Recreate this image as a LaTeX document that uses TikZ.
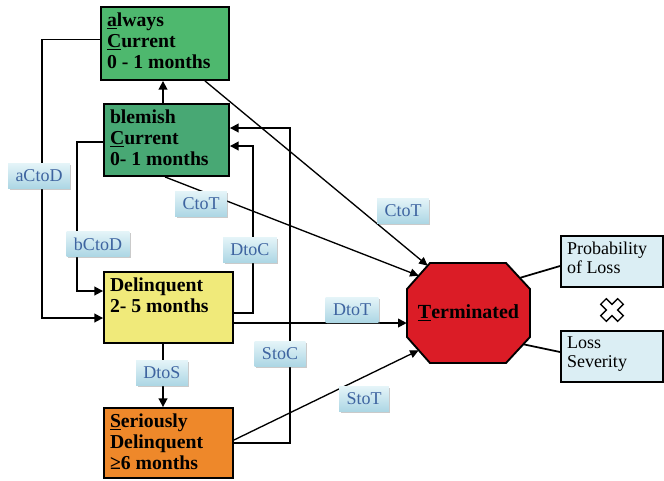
\documentclass[tikz,border=0pt]{standalone}
\usepackage{fontspec}
\setmainfont{Liberation Serif}
\usetikzlibrary{arrows.meta,shadows,calc}
\definecolor{cA}{RGB}{78,184,110}
\definecolor{cB}{RGB}{72,168,116}
\definecolor{cD}{RGB}{240,234,122}
\definecolor{cS}{RGB}{238,136,42}
\definecolor{cT}{RGB}{219,28,38}
\definecolor{cP}{RGB}{219,238,244}
\definecolor{labtxt}{RGB}{62,100,160}
\definecolor{labtop}{RGB}{228,244,248}
\definecolor{labbot}{RGB}{172,214,228}
\newcommand\bt[3]{\parbox[c][#2][t]{#1}{\raggedright #3}}
\begin{document}
\begin{tikzpicture}[x=0.75pt,y=-0.75pt,
  bx/.style={draw=black,line width=1.4pt,inner sep=4.5pt,font=\fontsize{14.8}{15.5}\selectfont\bfseries},
  px/.style={draw=black,line width=1.4pt,inner sep=4.5pt,fill=cP,font=\fontsize{13.5}{14}\selectfont},
  con/.style={line width=1.3pt},
  arr/.style={con,-{Triangle[length=6.5pt,width=6.5pt]}},
  diag/.style={line width=1pt,-{Triangle[length=6.5pt,width=6pt]}},
  lab/.style={font=\fontsize{13.5}{13.5}\selectfont,text=labtxt,top color=labtop,bottom color=labbot,
    minimum height=18.75pt,inner xsep=5.5pt,inner ysep=0pt,
    drop shadow={shadow xshift=1.2pt,shadow yshift=-1.2pt,opacity=.35,fill=black!60}}]
\useasboundingbox (0,0) rectangle (664,480);
% boxes
\node[bx,fill=cA] (a) at (165,43.5) {\bt{87pt}{45.75pt}{\underline{a}lways\\\underline{C}urrent\\0 - 1 months}};
\node[bx,fill=cB] (b) at (166.5,140) {\bt{84.75pt}{45pt}{blemish\\\underline{C}urrent\\0- 1 months}};
\node[bx,fill=cD] (d) at (168.5,307.5) {\bt{87.75pt}{44.25pt}{Delinquent\\2- 5 months}};
\node[bx,fill=cS] (s) at (168.5,443) {\bt{87.75pt}{43.5pt}{\underline{S}eriously\\Delinquent\\≥6 months}};
\node[px] (p) at (612,261.5) {\bt{67.5pt}{29.25pt}{Probability\\of Loss}};
\node[px] (v) at (612,356.5) {\bt{67.5pt}{29.25pt}{Loss\\Severity}};
% octagon
\filldraw[fill=cT,draw=black,line width=1.4pt] (430,263) -- (506,263) -- (530,289) -- (530,337) -- (506,363) -- (430,363) -- (407,337) -- (407,289) -- cycle;
\node[minimum width=92.25pt,minimum height=75pt,inner sep=0pt,font=\fontsize{15}{15}\selectfont\bfseries] (t) at (468.5,313) {\underline{T}erminated};
% cross
\draw[fill=white,line width=1pt,rotate around={45:(612,310)}] (608,298) -- (616,298) -- (616,306) -- (624,306) -- (624,314) -- (616,314) -- (616,322) -- (608,322) -- (608,314) -- (600,314) -- (600,306) -- (608,306) -- cycle;
% connectors
\draw[arr] ($(b.north)+(-3.5,0)$) -- ($(a.south)+(-2,0)$);
\draw[arr] ($(a.west)+(0,-4)$) -- ++(-58,0) |- ($(d.west)+(0,10.5)$);
\draw[arr] ($(b.west)+(0,2)$) -- ++(-26,0) |- ($(d.west)+(0,-16.5)$);
\draw[arr] ($(d.east)+(0,5.5)$) -- ++(19,0) |- ($(b.east)+(0,6)$);
\draw[arr] (s.east) -- ++(56,0) |- ($(b.east)+(0,-12)$);
\draw[arr] ($(d.south)+(-5.5,0)$) -- ($(s.north)+(-5.5,0)$);
\draw[arr] ($(d.east)+(0,15.5)$) -- ($(t.west)+(0,10)$);
\draw[diag] ($(s.east)+(0,-3)$) -- ($(t.south west)+(12,-13)$);
\draw[diag] ($(b.south)+(-1.5,0)$) -- ($(t.north west)+(12,13)$);
\draw[diag] ($(a.south)+(40,0)$) -- ($(t.north west)+(21,3)$);
\draw[con] ($(t.north east)+(-10,15)$) -- ($(p.west)+(0,4.5)$);
\draw[con] ($(t.south east)+(-7,-19)$) -- ($(v.west)+(0,-4.5)$);
% labels
\node[lab] (l1) at (39,176) {aCtoD};
\node[lab] (l2) at (201,204) {CtoT};
\node[lab] (l3) at (98,244) {bCtoD};
\node[lab] (l4) at (250,250) {DtoC};
\node[lab] (l5) at (162,373) {DtoS};
\node[lab] (l6) at (280,354) {StoC};
\node[lab] (l7) at (403,211) {CtoT};
\node[lab] (l8) at (352,310) {DtoT};
\node[lab] (l9) at (364,399) {StoT};
\end{tikzpicture}
\end{document}
